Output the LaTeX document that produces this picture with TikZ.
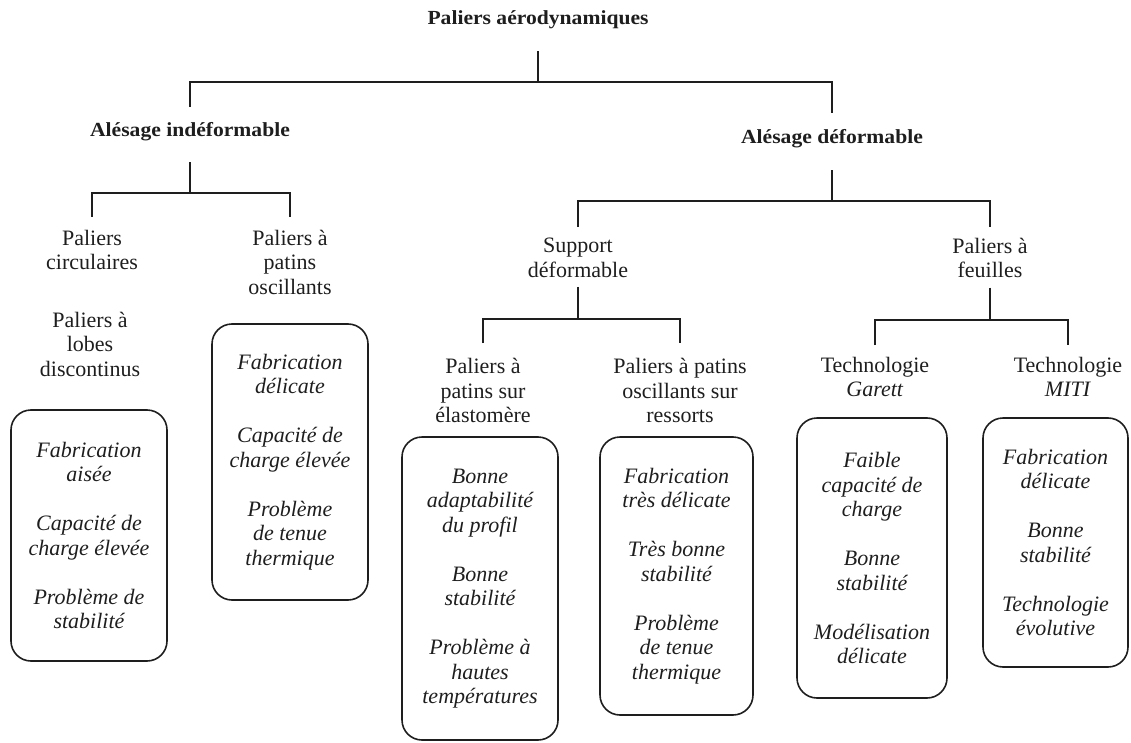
\documentclass[tikz,border=0pt]{standalone}
\usepackage{fontspec}
\setmainfont{Liberation Serif}
\newfontfamily\headfont[FakeStretch=1.08]{Liberation Serif}
\definecolor{ink}{RGB}{30,30,30}
\begin{document}
\begin{tikzpicture}[x=1pt,y=-1pt,
  txt/.style={anchor=north, align=center, inner sep=0pt, text=ink, font=\fontsize{22}{24.5}\selectfont},
  hdr/.style={anchor=base, inner sep=0pt, text=ink, font=\headfont\bfseries\fontsize{20}{24}\selectfont},
  card/.style={draw=ink, line width=1.6pt, rounded corners=20pt, align=center, inner sep=0pt, text=ink, font=\itshape\fontsize{22}{24.5}\selectfont},
  conn/.style={draw=ink, line width=1.3pt}]
\useasboundingbox (0,0) rectangle (1131,743);

% headers
\node[hdr] (title) at (538,24.5) {Paliers aérodynamiques};
\node[hdr] (ind) at (190,136.5) {Alésage indéformable};
\node[hdr] (def) at (832,143.5) {Alésage déformable};

% level 3
\node[txt] (circ) at (92,230) {Paliers\\circulaires};
\node[txt] (lobes) at (90,312) {Paliers à\\lobes\\discontinus};
\node[txt] (osc) at (290,230) {Paliers à\\patins\\oscillants};
\node[txt] (sup) at (578,238) {Support\\déformable};
\node[txt] (feu) at (990,238) {Paliers à\\feuilles};

% level 4
\node[txt] (ela) at (483,358) {Paliers à\\patins sur\\élastomère};
\node[txt] (res) at (680,358) {Paliers à patins\\oscillants sur\\ressorts};
\node[txt] (gar) at (875,357) {Technologie\\\textit{Garett}};
\node[txt] (miti) at (1068,357) {Technologie\\\textit{MITI}};

% cards
\node[card, minimum width=156pt, minimum height=251pt] (k1) at (89,535.5)
  {Fabrication\\aisée\\[24.5pt]Capacité de\\charge élevée\\[24.5pt]Problème de\\stabilité};
\node[card, minimum width=156pt, minimum height=276pt] (k2) at (290,462)
  {Fabrication\\délicate\\[24.5pt]Capacité de\\charge élevée\\[24.5pt]Problème\\de tenue\\thermique};
\node[card, minimum width=156pt, minimum height=303pt] (k3) at (480,588.5)
  {Bonne\\adaptabilité\\du profil\\[24.5pt]Bonne\\stabilité\\[24.5pt]Problème à\\hautes\\températures};
\node[card, minimum width=153pt, minimum height=278pt] (k4) at (676.5,576)
  {Fabrication\\très délicate\\[24.5pt]Très bonne\\stabilité\\[24.5pt]Problème\\de tenue\\thermique};
\node[card, minimum width=150pt, minimum height=280pt] (k5) at (872,558)
  {Faible\\capacité de\\charge\\[24.5pt]Bonne\\stabilité\\[24.5pt]Modélisation\\délicate};
\node[card, minimum width=145pt, minimum height=249pt] (k6) at (1055.5,542.5)
  {Fabrication\\délicate\\[24.5pt]Bonne\\stabilité\\[24.5pt]Technologie\\évolutive};

% junctions
\coordinate (j0) at (538,82);
\coordinate (j1) at (190,193);
\coordinate (j2) at (832,201);
\coordinate (j3) at (578,319);
\coordinate (j4) at (990,320);

% connectors
\draw[conn] ([yshift=-22pt]title.south) -- (j0);
\draw[conn] ([yshift=15.5pt]ind.north) |- (j0) -| ([yshift=16.5pt]def.north);
\draw[conn] ([yshift=-21pt]ind.south) -- (j1);
\draw[conn] ([yshift=13pt]circ.north) |- (j1) -| ([yshift=13pt]osc.north);
\draw[conn] ([yshift=-22pt]def.south) -- (j2);
\draw[conn] ([yshift=11pt]sup.north) |- (j2) -| ([yshift=11pt]feu.north);
\draw[conn] ([yshift=-9.3pt]sup.south) -- (j3);
\draw[conn] ([yshift=15pt]ela.north) |- (j3) -| ([yshift=15pt]res.north);
\draw[conn] ([yshift=-9.3pt]feu.south) -- (j4);
\draw[conn] ([yshift=12pt]gar.north) |- (j4) -| ([yshift=12pt]miti.north);
\end{tikzpicture}
\end{document}
